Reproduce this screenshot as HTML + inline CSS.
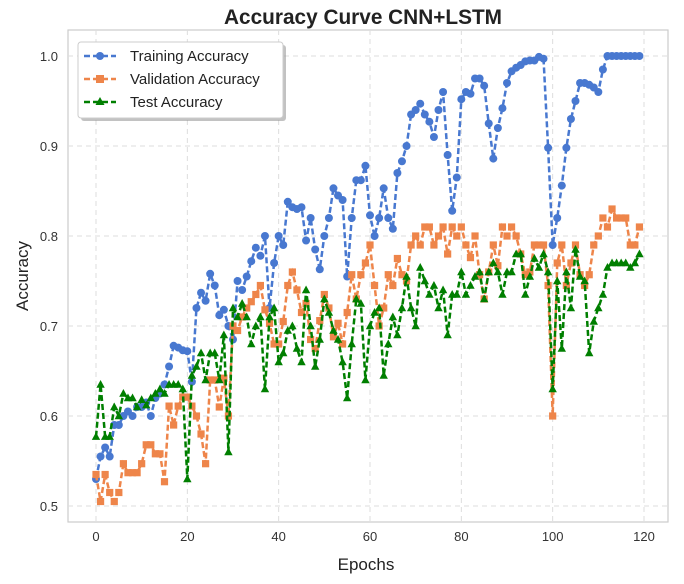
<!DOCTYPE html>
<html><head><meta charset="utf-8"><style>
body{margin:0;background:#fff;}
svg{display:block;font-family:"Liberation Sans",sans-serif;}
</style></head><body>
<svg id="chart" width="684" height="584">
<text x="363" y="24" text-anchor="middle" font-size="20.8" font-weight="bold" fill="#222">Accuracy Curve CNN+LSTM</text>
<rect x="68" y="30" width="600" height="492" fill="#fff" stroke="#ccc" stroke-width="1.2"/>
<g id="grid"></g><g id="ticks"></g><g id="series"></g>
<text x="366" y="570" text-anchor="middle" font-size="17" fill="#222">Epochs</text>
<text transform="translate(28,276) rotate(-90)" text-anchor="middle" font-size="17" fill="#222">Accuracy</text>
<g>
<rect x="81" y="45" width="205" height="76" rx="3" fill="#999" opacity="0.6"/>
<rect x="78" y="42" width="205" height="76" rx="3" fill="#fff" stroke="#ccc"/>
<g><line x1="84" y1="56" x2="116" y2="56" stroke="#4878d0" stroke-width="2.5" stroke-dasharray="6,3"/><circle cx="100" cy="56" r="4" fill="#4878d0"/><text x="130" y="61" font-size="15" fill="#222">Training Accuracy</text></g>
<g><line x1="84" y1="79" x2="116" y2="79" stroke="#ee854a" stroke-width="2.5" stroke-dasharray="6,3"/><rect x="96" y="75" width="8" height="8" fill="#ee854a"/><text x="130" y="84" font-size="15" fill="#222">Validation Accuracy</text></g>
<g><line x1="84" y1="102" x2="116" y2="102" stroke="#007f00" stroke-width="2.5" stroke-dasharray="6,3"/><polygon points="100,97 104.5,105 95.5,105" fill="#007f00"/><text x="130" y="107" font-size="15" fill="#222">Test Accuracy</text></g>
</g>
</svg>
<script>
const xTicks=[0,20,40,60,80,100,120];
const yTicks=[0.5,0.6,0.7,0.8,0.9,1.0];
const yTickLabels=["0.5","0.6","0.7","0.8","0.9","1.0"];
const trainAcc=[0.53,0.555,0.565,0.555,0.59,0.59,0.60,0.605,0.60,0.61,0.61,0.615,0.60,0.62,0.625,0.635,0.655,0.678,0.676,0.673,0.672,0.638,0.72,0.737,0.728,0.758,0.745,0.712,0.718,0.70,0.685,0.75,0.74,0.755,0.772,0.787,0.778,0.80,0.72,0.77,0.80,0.79,0.838,0.832,0.83,0.832,0.795,0.82,0.785,0.763,0.80,0.82,0.853,0.845,0.84,0.755,0.82,0.862,0.862,0.878,0.823,0.80,0.82,0.853,0.82,0.808,0.87,0.883,0.90,0.935,0.94,0.947,0.935,0.927,0.91,0.94,0.96,0.89,0.828,0.865,0.952,0.96,0.958,0.975,0.975,0.967,0.925,0.886,0.92,0.942,0.97,0.983,0.987,0.99,0.994,0.995,0.995,0.999,0.997,0.898,0.79,0.82,0.856,0.898,0.93,0.95,0.97,0.97,0.968,0.965,0.96,0.985,1,1,1,1,1,1,1,1];
const valAcc=[0.535,0.505,0.535,0.515,0.505,0.515,0.547,0.537,0.537,0.537,0.547,0.568,0.568,0.558,0.558,0.527,0.611,0.59,0.611,0.621,0.621,0.611,0.60,0.58,0.547,0.64,0.64,0.61,0.642,0.6,0.7,0.695,0.71,0.72,0.727,0.735,0.745,0.718,0.703,0.68,0.68,0.705,0.745,0.76,0.74,0.715,0.725,0.685,0.675,0.706,0.735,0.72,0.688,0.703,0.68,0.715,0.757,0.73,0.757,0.77,0.79,0.745,0.7,0.72,0.757,0.745,0.775,0.757,0.75,0.79,0.8,0.79,0.81,0.81,0.79,0.8,0.81,0.78,0.81,0.8,0.81,0.79,0.776,0.8,0.757,0.73,0.76,0.79,0.767,0.81,0.8,0.81,0.8,0.78,0.757,0.76,0.79,0.79,0.79,0.745,0.6,0.77,0.79,0.745,0.77,0.79,0.757,0.745,0.757,0.79,0.8,0.82,0.81,0.83,0.82,0.82,0.82,0.79,0.79,0.81];
const testAcc=[0.577,0.635,0.577,0.577,0.61,0.6,0.625,0.62,0.62,0.61,0.618,0.612,0.62,0.625,0.63,0.625,0.635,0.635,0.635,0.63,0.53,0.645,0.655,0.67,0.64,0.67,0.67,0.64,0.69,0.56,0.72,0.71,0.725,0.71,0.68,0.7,0.71,0.63,0.71,0.72,0.66,0.67,0.695,0.70,0.675,0.66,0.74,0.7,0.655,0.685,0.73,0.715,0.695,0.685,0.66,0.62,0.68,0.73,0.725,0.64,0.70,0.715,0.72,0.645,0.68,0.71,0.69,0.72,0.755,0.72,0.70,0.765,0.75,0.735,0.745,0.72,0.74,0.69,0.735,0.735,0.76,0.735,0.745,0.755,0.76,0.73,0.76,0.77,0.76,0.735,0.76,0.76,0.78,0.78,0.735,0.755,0.775,0.765,0.78,0.76,0.63,0.75,0.675,0.76,0.72,0.785,0.755,0.75,0.67,0.705,0.72,0.735,0.765,0.77,0.77,0.77,0.77,0.765,0.77,0.78];
const NS="http://www.w3.org/2000/svg";
function xs(e){return 96+e*(644-96)/120;}
function ys(v){return 506-(v-0.5)*900;}
function mk(t,a,p){const el=document.createElementNS(NS,t);for(const k in a)el.setAttribute(k,a[k]);p.appendChild(el);return el;}
const grid=document.getElementById('grid'),ticks=document.getElementById('ticks'),ser=document.getElementById('series');
xTicks.forEach(t=>{const x=xs(t);
 const g=mk('line',{x1:x,x2:x,y1:30,y2:522,stroke:'#ddd','stroke-dasharray':'5,4'},grid);
 
 
 const l=mk('text',{x:x,y:541,'text-anchor':'middle','font-size':13,fill:'#333'},ticks);l.textContent=t;
 
 });
yTicks.forEach((t,i)=>{const y=ys(t);
 const g=mk('line',{x1:68,x2:668,y1:y,y2:y,stroke:'#ddd','stroke-dasharray':'5,4'},grid);
 
 
 const l=mk('text',{x:58,y:y+5,'text-anchor':'end','font-size':13,fill:'#333'},ticks);l.textContent=yTickLabels[i];
 
 });
function draw(data,color,marker,name){
 const g=mk('g',{},ser);
 
 
 mk('polyline',{points:data.map((v,i)=>xs(i)+','+ys(v)).join(' '),fill:'none',stroke:color,'stroke-width':2.5,'stroke-dasharray':'6,3'},g);
 data.forEach((v,i)=>{const x=xs(i),y=ys(v);let m;
  if(marker==='o')m=mk('circle',{cx:x,cy:y,r:4,fill:color},g);
  else if(marker==='s')m=mk('rect',{x:x-3.6,y:y-3.6,width:7.2,height:7.2,fill:color},g);
  else m=mk('polygon',{points:`${x},${y-4.5} ${x+4.2},${y+3.2} ${x-4.2},${y+3.2}`,fill:color},g);
  
  });
}
draw(trainAcc,'#4878d0','o','training-series');
draw(valAcc,'#ee854a','s','validation-series');
draw(testAcc,'#007f00','^','test-series');
</script>
</body></html>
